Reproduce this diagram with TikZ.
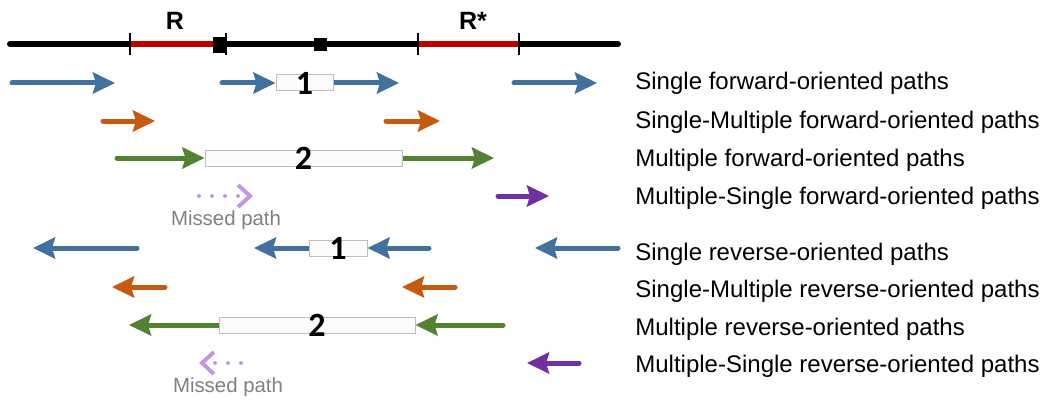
\documentclass[tikz,border=0pt]{standalone}
\usepackage{fontspec}
\setmainfont{Liberation Sans}
\newfontfamily\digitfont{Carlito}
\usetikzlibrary{arrows.meta}

\definecolor{ReadBlue}{RGB}{65,113,156}
\definecolor{ReadOrange}{RGB}{197,90,17}
\definecolor{ReadGreen}{RGB}{84,130,53}
\definecolor{ReadPurple}{RGB}{112,48,160}
\definecolor{MissLilac}{RGB}{196,150,230}
\definecolor{RegionRed}{RGB}{192,0,0}

\tikzset{
	readarrow/.style={line width=2.5pt,line cap=round,-{Stealth[length=11pt,width=10.5pt,inset=1.5pt]}},
	gapbox/.style={draw=gray!50,fill=gray!3,line width=0.5pt,inner sep=0pt,minimum height=8pt},
	gapnum/.style={font=\digitfont\bfseries\fontsize{17}{17}\selectfont,inner sep=0pt},
	typelabel/.style={anchor=base west,inner sep=0pt,font=\fontsize{12}{14}\selectfont},
	missedarrow/.style={MissLilac,line width=2pt,line cap=round,dash pattern=on 0pt off 6.5pt,
		-{Straight Barb[length=6pt,width=11pt,line width=2pt]}},
	missedtext/.style={anchor=base,inner sep=0pt,text=gray,font=\fontsize{10.2}{12}\selectfont}
}

\begin{document}
\begin{tikzpicture}[x=0.5pt,y=-0.5pt]
	\useasboundingbox (0,0) rectangle (1042,401);
	% strand with the two regions
	\coordinate (LineStart) at (10,44);
	\coordinate (LineEnd)   at (618,44);
	\coordinate (RStart)    at (130,44);
	\coordinate (REnd)      at (213,44);
	\coordinate (RsStart)   at (418,44);
	\coordinate (RsEnd)     at (519,44);
	\draw [line width=3pt,line cap=round] (LineStart) -- (LineEnd);
	\draw [line width=3pt,RegionRed] (RStart) -- (REnd);
	\draw [line width=3pt,RegionRed] (RsStart) -- (RsEnd);
	\foreach \x in {130,226,418,519}
		\draw [line width=0.7pt] (\x,33) -- (\x,55);
	\fill (213,37) rectangle (225,53);
	\fill (314,38) rectangle (327,51);
	\node [anchor=base,font=\bfseries\fontsize{12.5}{14}\selectfont] (RLabel)  at (175,30) {R};
	\node [anchor=base,font=\bfseries\fontsize{12.5}{14}\selectfont] (RsLabel) at (473,30) {R*};

	% forward-oriented paths
	\node [gapbox,minimum width=28.5pt] (GapOneF) at (304.5,83) {};
	\node [gapbox,minimum width=98.5pt] (GapTwoF) at (303.5,158) {};

	\coordinate (SglFa) at (12,83);   \coordinate (SglFb) at (115,83);
	\coordinate (SglFc) at (222,83);  \coordinate (SglFd) at (399,83);
	\coordinate (SglFe) at (514,83);  \coordinate (SglFf) at (597,83);
	\draw [readarrow,ReadBlue] (SglFa) -- (SglFb);
	\draw [readarrow,ReadBlue] (SglFc) -- (GapOneF.west);
	\draw [readarrow,ReadBlue,line cap=butt] (GapOneF.east) -- (SglFd);
	\draw [readarrow,ReadBlue] (SglFe) -- (SglFf);

	\coordinate (SmFa) at (103,121);  \coordinate (SmFb) at (155,121);
	\coordinate (SmFc) at (386,121);  \coordinate (SmFd) at (440,121);
	\draw [readarrow,ReadOrange] (SmFa) -- (SmFb);
	\draw [readarrow,ReadOrange] (SmFc) -- (SmFd);

	\coordinate (MulFa) at (117,158); \coordinate (MulFb) at (494,158);
	\draw [readarrow,ReadGreen] (MulFa) -- (GapTwoF.west);
	\draw [readarrow,ReadGreen,line cap=butt] (GapTwoF.east) -- (MulFb);

	\coordinate (MsFa) at (498,196);  \coordinate (MsFb) at (549,196);
	\draw [readarrow,ReadPurple] (MsFa) -- (MsFb);

	\node [gapnum] (NumOneF) at (GapOneF) {1};
	\node [gapnum] (NumTwoF) at (GapTwoF) {2};

	\coordinate (MissFa) at (199,196); \coordinate (MissFb) at (253,196);
	\draw [missedarrow] (MissFa) -- (MissFb);
	\node [missedtext] (MissFText) at (226,225) {Missed path};

	% reverse-oriented paths
	\node [gapbox,minimum width=29pt] (GapOneR) at (338,248) {};
	\node [gapbox,minimum width=98pt] (GapTwoR) at (317,325) {};

	\coordinate (SglRa) at (137,248); \coordinate (SglRb) at (33,248);
	\coordinate (SglRc) at (254,248); \coordinate (SglRd) at (429,248);
	\coordinate (SglRe) at (618,248); \coordinate (SglRf) at (535,248);
	\draw [readarrow,ReadBlue] (SglRa) -- (SglRb);
	\draw [readarrow,ReadBlue,line cap=butt] (GapOneR.west) -- (SglRc);
	\draw [readarrow,ReadBlue] (SglRd) -- (GapOneR.east);
	\draw [readarrow,ReadBlue] (SglRe) -- (SglRf);

	\coordinate (SmRa) at (165,287);  \coordinate (SmRb) at (112,287);
	\coordinate (SmRc) at (455,287);  \coordinate (SmRd) at (402,287);
	\draw [readarrow,ReadOrange] (SmRa) -- (SmRb);
	\draw [readarrow,ReadOrange] (SmRc) -- (SmRd);

	\coordinate (MulRa) at (129,325); \coordinate (MulRb) at (503,325);
	\draw [readarrow,ReadGreen,line cap=butt] (GapTwoR.west) -- (MulRa);
	\draw [readarrow,ReadGreen] (MulRb) -- (GapTwoR.east);

	\coordinate (MsRa) at (579,363);  \coordinate (MsRb) at (527,363);
	\draw [readarrow,ReadPurple] (MsRa) -- (MsRb);

	\node [gapnum] (NumOneR) at (GapOneR) {1};
	\node [gapnum] (NumTwoR) at (GapTwoR) {2};

	\coordinate (MissRa) at (241,363); \coordinate (MissRb) at (199,363);
	\draw [missedarrow] (MissRa) -- (MissRb);
	\node [missedtext] (MissRText) at (228,392) {Missed path};

	% path types
	\node [typelabel] (TypeOne)   at (635,90)  {Single forward-oriented paths};
	\node [typelabel] (TypeTwo)   at (635,128) {Single-Multiple forward-oriented paths};
	\node [typelabel] (TypeThree) at (635,166) {Multiple forward-oriented paths};
	\node [typelabel] (TypeFour)  at (635,204) {Multiple-Single forward-oriented paths};
	\node [typelabel] (TypeFive)  at (635,260) {Single reverse-oriented paths};
	\node [typelabel] (TypeSix)   at (635,297) {Single-Multiple reverse-oriented paths};
	\node [typelabel] (TypeSeven) at (635,335) {Multiple reverse-oriented paths};
	\node [typelabel] (TypeEight) at (635,372) {Multiple-Single reverse-oriented paths};
\end{tikzpicture}
\end{document}
